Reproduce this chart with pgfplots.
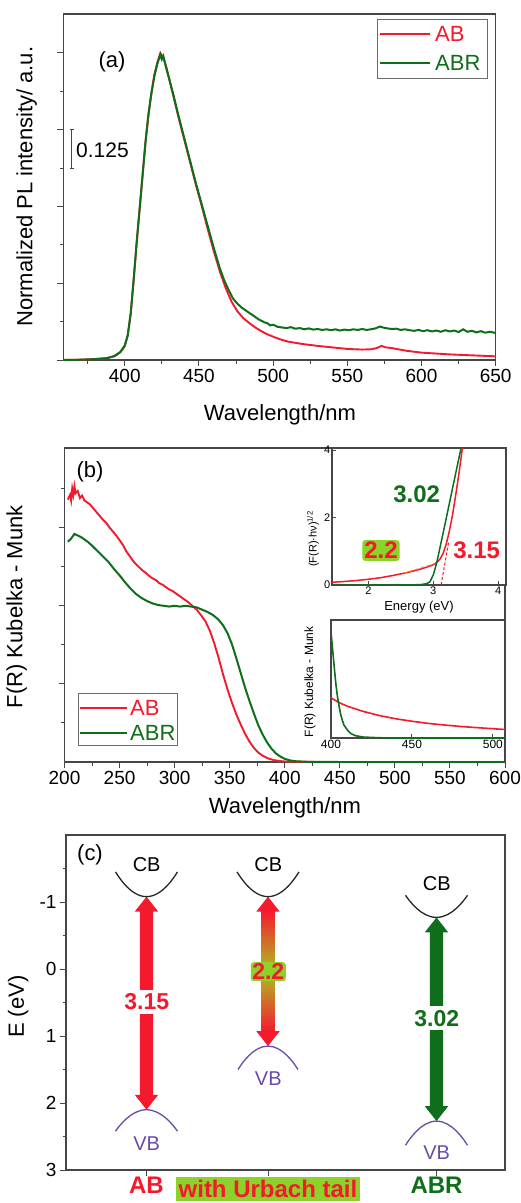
\documentclass[border=0pt]{standalone}
\usepackage{fontspec}
\setmainfont{Liberation Sans}
\usepackage{pgfplots}
\pgfplotsset{compat=1.18}

\definecolor{myred}{RGB}{245,25,45}
\definecolor{mygreen}{RGB}{15,110,25}
\definecolor{hlgreen}{RGB}{140,210,40}
\definecolor{vbpurple}{RGB}{105,75,165}
\definecolor{axgray}{RGB}{70,70,70}
\definecolor{midolive}{RGB}{175,190,35}

\newcommand{\fs}[1]{\fontsize{#1}{#1}\selectfont}

\pgfplotsset{
  base/.style={scale only axis, anchor=center,
    axis line style={axgray,line width=1.2pt},
    every tick/.style={axgray,line width=1pt},
    tick align=outside, tick pos=left,
    major tick length=6pt, minor tick length=3.5pt,
    /pgf/number format/assume math mode=true,
    tick label style={font=\fs{19}}},
}

\begin{document}
\begin{tikzpicture}
\path[use as bounding box] (0pt,0pt) rectangle (520pt,-1203pt);

% ---------------- (a) ----------------
\begin{axis}[base, at={(279.5pt,-187pt)}, width=432.4pt, height=346pt,
  xmin=358.6, xmax=650, ymin=0, ymax=1.127,
  xtick={400,450,...,650}, minor xtick={375,425,...,625},
  ytick={0,0.25,0.5,0.75,1}, minor ytick={0.125,0.375,0.625,0.875}, yticklabels={}]
\addplot[myred, line width=1.9pt] coordinates {
(358.6,0) (370,0.001) (380,0.003) (388,0.006) (393,0.012) (397,0.025) (400,0.045) (402,0.08) (404,0.15) (406,0.26) (408,0.38) (410,0.49) (412,0.6) (414,0.71) (416,0.8) (418,0.87) (420,0.93) (422,0.97) (424,1.0) (426,0.985) (428,0.955) (430,0.915) (433,0.855) (436,0.795) (440,0.72) (444,0.645) (448,0.57) (452,0.5) (456,0.425) (460,0.355) (464,0.29) (468,0.235) (472,0.19) (476,0.158) (480,0.136) (484,0.12) (488,0.106) (492,0.094) (496,0.084) (500,0.076) (505,0.067) (510,0.06) (520,0.052) (530,0.046) (540,0.041) (550,0.036) (560,0.034) (566,0.035) (570,0.039) (573,0.046) (576,0.041) (580,0.039) (583,0.036) (590,0.03) (600,0.024) (610,0.021) (620,0.018) (630,0.016) (640,0.014) (650,0.012)};
\addplot[mygreen, line width=2pt] coordinates {
(358.6,0) (370,0.001) (380,0.003) (388,0.006) (393,0.013) (397,0.026) (400,0.047) (402,0.08) (404,0.15) (406,0.26) (408,0.38) (410,0.49) (412,0.6) (414,0.71) (416,0.8) (418,0.87) (420,0.925) (422,0.965) (424,0.995) (425,0.98) (426,0.99) (428,0.95) (430,0.915) (433,0.86) (436,0.8) (440,0.725) (444,0.65) (448,0.575) (452,0.505) (456,0.435) (460,0.365) (464,0.3) (467,0.26) (470,0.228) (473,0.2) (476,0.183) (479,0.17) (482,0.16) (484,0.153) (486,0.147) (488,0.14) (490,0.133) (492,0.128) (494,0.123) (496,0.12) (498,0.113) (500,0.115) (503,0.108) (506,0.106) (509,0.104) (512,0.107) (515,0.102) (518,0.104) (521,0.1) (524,0.103) (527,0.099) (530,0.101) (533,0.098) (536,0.1) (539,0.097) (542,0.1) (545,0.096) (548,0.099) (551,0.097) (554,0.1) (557,0.098) (560,0.101) (563,0.098) (566,0.1) (569,0.103) (572,0.109) (574,0.106) (577,0.103) (580,0.101) (583,0.102) (586,0.098) (589,0.1) (592,0.097) (595,0.095) (598,0.098) (601,0.094) (604,0.097) (607,0.093) (610,0.096) (613,0.092) (616,0.097) (619,0.093) (622,0.096) (625,0.091) (628,0.1) (631,0.092) (634,0.095) (637,0.09) (640,0.094) (643,0.089) (646,0.092) (650,0.088)};
\draw[axgray, line width=1pt] (axis cs:364.3,0.625) -- (axis cs:364.3,0.75)
  (axis cs:363.0,0.625) -- (axis cs:365.6,0.625) (axis cs:363.0,0.75) -- (axis cs:365.6,0.75);
\end{axis}

% ---------------- (b) ----------------
\begin{axis}[base, at={(284.75pt,-605pt)}, width=440.5pt, height=314pt,
  xmin=200, xmax=600, ymin=0, ymax=4.02,
  xtick={200,250,...,600}, minor xtick={225,275,...,575},
  ytick={1,2,3}, minor ytick={0.5,1.5,2.5,3.5}, yticklabels={}]
\addplot[myred, line width=1.9pt] coordinates {
(203,3.36) (205,3.42) (206,3.35) (207,3.5) (208,3.42) (209,3.53) (210,3.44) (212,3.47) (214,3.38) (216,3.41) (218,3.35) (220,3.33) (223,3.3) (226,3.25) (229,3.2) (232,3.15) (235,3.1) (238,3.06) (241,3.0) (244,2.95) (247,2.9) (250,2.84) (253,2.78) (256,2.7) (259,2.64) (262,2.58) (265,2.53) (268,2.49) (271,2.45) (274,2.42) (277,2.38) (280,2.35) (283,2.33) (286,2.29) (289,2.27) (292,2.24) (295,2.21) (298,2.19) (301,2.16) (304,2.13) (307,2.1) (310,2.07) (313,2.04) (316,2.0) (320,1.95) (324,1.88) (328,1.8) (332,1.68) (336,1.52) (340,1.33) (344,1.12) (348,0.93) (352,0.76) (356,0.61) (360,0.48) (364,0.36) (368,0.26) (372,0.18) (376,0.12) (380,0.08) (385,0.045) (390,0.025) (395,0.013) (400,0.007) (410,0.003) (420,0.001) (450,0) (600,0)};
\addplot[mygreen, line width=2pt] coordinates {
(203,2.82) (206,2.86) (209,2.92) (212,2.9) (215,2.88) (218,2.85) (221,2.82) (225,2.77) (230,2.7) (235,2.63) (240,2.56) (245,2.47) (250,2.39) (255,2.3) (260,2.22) (265,2.15) (270,2.1) (275,2.06) (280,2.03) (285,2.01) (290,2.0) (295,1.99) (300,2.0) (305,1.99) (310,2.0) (315,1.99) (320,1.98) (325,1.95) (330,1.92) (335,1.88) (340,1.82) (344,1.75) (348,1.65) (352,1.51) (356,1.33) (360,1.14) (364,0.95) (368,0.78) (372,0.62) (376,0.47) (380,0.35) (384,0.25) (388,0.17) (392,0.11) (396,0.07) (400,0.04) (405,0.02) (410,0.01) (420,0.003) (450,0) (600,0)};
\end{axis}

% upper inset
\begin{axis}[base, at={(419pt,-516.5pt)}, width=174pt, height=137pt,
  axis background/.style={fill=white},
  xmin=1.44, xmax=4.12, ymin=0, ymax=4.06,
  xtick={2,3,4}, ytick={0,2,4}, tick align=inside, major tick length=4pt,
  tick label style={font=\fs{11}, inner sep=1.5pt}]
\addplot[myred, line width=1.5pt] coordinates {
(1.44,0.08) (1.6,0.1) (1.8,0.13) (2.0,0.17) (2.2,0.22) (2.4,0.29) (2.6,0.37) (2.8,0.47) (2.9,0.53) (3.0,0.6) (3.05,0.66) (3.1,0.76) (3.15,0.93) (3.2,1.22) (3.25,1.62) (3.3,2.12) (3.35,2.72) (3.4,3.37) (3.45,4.08)};
\addplot[orange, dashed, line width=1pt] coordinates {(2.55,0.35) (3.02,0.63)};
\addplot[myred, densely dashed, line width=1pt] coordinates {(3.12,0) (3.24,1.3)};
\addplot[mygreen, line width=1.5pt] coordinates {
(1.44,0) (2.5,0) (2.8,0.01) (2.9,0.04) (2.95,0.1) (3.0,0.3) (3.03,0.5) (3.06,0.72) (3.1,1.08) (3.2,1.98) (3.3,2.9) (3.43,4.08)};
\end{axis}

% lower inset
\begin{axis}[base, at={(418pt,-679pt)}, width=174pt, height=118pt,
  axis background/.style={fill=white},
  xmin=400, xmax=507.5, ymin=0, ymax=1,
  xtick={400,450,500}, ytick=\empty, tick align=inside, major tick length=4pt,
  tick label style={font=\fs{12}, inner sep=1.5pt}]
\addplot[myred, line width=1.6pt] coordinates {
(400,0.34) (405,0.3) (410,0.27) (420,0.225) (430,0.19) (440,0.163) (450,0.142) (460,0.124) (470,0.11) (480,0.098) (490,0.088) (500,0.079) (507.5,0.072)};
\addplot[mygreen, line width=1.6pt] coordinates {
(400,0.9) (401,0.75) (402,0.6) (403,0.46) (404,0.35) (405,0.27) (406,0.2) (407,0.15) (408,0.11) (410,0.07) (412,0.04) (415,0.02) (420,0.008) (430,0.002) (440,0) (507.5,0)};
\end{axis}

% ---------------- (c) ----------------
\begin{axis}[base, at={(285.5pt,-1002.5pt)}, width=439pt, height=335pt,
  xmin=66, xmax=505, ymin=-2, ymax=3, y dir=reverse,
  ytick={-1,0,1,2,3}, minor ytick={-1.5,-0.5,0.5,1.5,2.5},
  xtick={146.5,268,436.5},
  xticklabels={{\textcolor{myred}{AB}},{\colorbox{hlgreen}{\textcolor{myred}{with Urbach tail}}},{\textcolor{mygreen}{ABR}}},
  xticklabel style={font=\fs{24}\bfseries, inner sep=1pt},
  clip=false]
% AB arrow
\addplot[fill=myred, draw=none] coordinates {
(146.5,-1.08) (158.2,-0.857) (153.2,-0.857) (153.2,1.877) (158.2,1.877) (146.5,2.10) (134.8,1.877) (139.8,1.877) (139.8,-0.857) (134.8,-0.857) (146.5,-1.08)};
% Urbach arrow
\addplot[draw=none, top color=myred, bottom color=myred, middle color=midolive] coordinates {
(261.3,-0.87) (274.7,-0.87) (274.7,0.94) (261.3,0.94) (261.3,-0.87)};
\addplot[fill=myred, draw=none] coordinates {(268,-1.08) (279.7,-0.857) (256.3,-0.857) (268,-1.08)};
\addplot[fill=myred, draw=none] coordinates {(268,1.15) (279.7,0.927) (256.3,0.927) (268,1.15)};
% ABR arrow
\addplot[fill=mygreen, draw=none] coordinates {
(436.5,-0.77) (448.2,-0.547) (443.2,-0.547) (443.2,2.047) (448.2,2.047) (436.5,2.27) (424.8,2.047) (429.8,2.047) (429.8,-0.547) (424.8,-0.547) (436.5,-0.77)};
% bands
\draw[black!85, line width=1.3pt] (axis cs:115.5,-1.45) parabola bend (axis cs:146.5,-1.08) (axis cs:177.5,-1.45);
\draw[black!85, line width=1.3pt] (axis cs:237,-1.45) parabola bend (axis cs:268,-1.08) (axis cs:299,-1.45);
\draw[black!85, line width=1.3pt] (axis cs:405.5,-1.1) parabola bend (axis cs:436.5,-0.77) (axis cs:467.5,-1.1);
\draw[vbpurple, line width=1.3pt] (axis cs:115.5,2.42) parabola bend (axis cs:146.5,2.1) (axis cs:177.5,2.42);
\draw[vbpurple, line width=1.3pt] (axis cs:238,1.5) parabola bend (axis cs:268,1.15) (axis cs:298,1.5);
\draw[vbpurple, line width=1.3pt] (axis cs:405.5,2.63) parabola bend (axis cs:436.5,2.27) (axis cs:467.5,2.63);
\end{axis}

% ---------------- legends ----------------
\draw[axgray!80, line width=0.8pt, fill=white] (377pt,-19pt) rectangle (487pt,-78pt);
\draw[myred, line width=1.9pt] (380pt,-34.3pt) -- (430pt,-34.3pt);
\draw[mygreen, line width=2pt] (380pt,-62.7pt) -- (430pt,-62.7pt);
\node[font=\fs{22}, text=myred, anchor=west, inner sep=0pt] at (435pt,-34.3pt) {AB};
\node[font=\fs{22}, text=mygreen, anchor=west, inner sep=0pt] at (435pt,-62.7pt) {ABR};

\draw[axgray!80, line width=0.8pt, fill=white] (78pt,-693pt) rectangle (177pt,-745pt);
\draw[myred, line width=1.9pt] (80pt,-708.3pt) -- (127pt,-708.3pt);
\draw[mygreen, line width=2pt] (80pt,-733pt) -- (127pt,-733pt);
\node[font=\fs{22}, text=myred, anchor=west, inner sep=0pt] at (130pt,-708.3pt) {AB};
\node[font=\fs{22}, text=mygreen, anchor=west, inner sep=0pt] at (130pt,-733pt) {ABR};

% ---------------- labels ----------------
\node[font=\fs{22}, rotate=90] at (26.7pt,-186.7pt) {Normalized PL intensity/ a.u.};
\node[font=\fs{22}] at (280pt,-415pt) {Wavelength/nm};
\node[font=\fs{22}] at (112pt,-62pt) {(a)};
\node[font=\fs{21}, anchor=west, inner sep=0pt] at (76pt,-150pt) {0.125};

\node[font=\fs{22}, rotate=90] at (16.7pt,-606.7pt) {F(R) Kubelka - Munk};
\node[font=\fs{22}] at (285pt,-808pt) {Wavelength/nm};
\node[font=\fs{22}] at (90pt,-472pt) {(b)};
\node[font=\fs{11}, rotate=90] at (313pt,-539pt) {(F(R)·hν)\textsuperscript{1/2}};
\node[font=\fs{13}] at (419pt,-607pt) {Energy (eV)};
\node[font=\fs{12}, rotate=90] at (310pt,-681.7pt) {F(R) Kubelka - Munk};
\node[font=\fs{24}\bfseries, text=mygreen] at (416.7pt,-494.7pt) {3.02};
\node[font=\fs{24}\bfseries, text=myred, fill=hlgreen, rounded corners=3pt, inner sep=2pt] at (381pt,-550.5pt) {2.2};
\node[font=\fs{24}\bfseries, text=myred] at (476.7pt,-550pt) {3.15};

\node[font=\fs{22}, rotate=90] at (18.3pt,-1006.7pt) {E (eV)};
\node[font=\fs{22}] at (90pt,-855pt) {(c)};
\node[font=\fs{20}] at (146.7pt,-865pt) {CB};
\node[font=\fs{20}] at (268.3pt,-865pt) {CB};
\node[font=\fs{20}] at (436.7pt,-883.3pt) {CB};
\node[font=\fs{20}, text=vbpurple] at (146.7pt,-1143.3pt) {VB};
\node[font=\fs{20}, text=vbpurple] at (268.3pt,-1078.3pt) {VB};
\node[font=\fs{20}, text=vbpurple] at (436.7pt,-1152.7pt) {VB};
\node[font=\fs{23}\bfseries, text=myred, fill=white, inner sep=2pt, minimum height=24pt] at (146.7pt,-1002pt) {3.15};
\node[font=\fs{23}\bfseries, text=myred, fill=hlgreen, rounded corners=3pt, inner sep=1.5pt] at (268.3pt,-971.7pt) {2.2};
\node[font=\fs{23}\bfseries, text=mygreen, fill=white, inner sep=2pt, minimum height=24pt] at (436.7pt,-1018.3pt) {3.02};
\end{tikzpicture}
\end{document}
